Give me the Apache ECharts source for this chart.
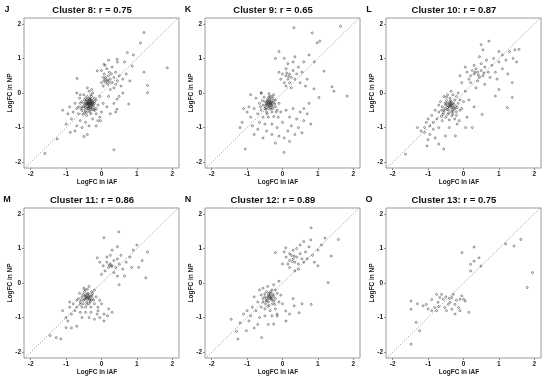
<!DOCTYPE html>
<html><head><meta charset="utf-8">
<script src="https://cdn.jsdelivr.net/npm/echarts@6/dist/echarts.min.js"></script>
<style>html,body{margin:0;padding:0;background:#fff}#c{width:550px;height:382px}</style>
</head><body><div id="c"></div>
<script>
const panelLetters = ['J','K','L','M','N','O'];
const panelTitles = ['Cluster 8: r = 0.75','Cluster 9: r = 0.65','Cluster 10: r = 0.87','Cluster 11: r = 0.86','Cluster 12: r = 0.89','Cluster 13: r = 0.75'];
const xAxisTitle = 'LogFC in iAF';
const yAxisTitle = 'LogFC in NP';
const tickValues = [-2,-1,0,1,2];
const diagonal = [[-2.3,-2.3],[2.3,2.3]];

const cluster8 = [[-0.35,-0.3],[-0.3,-0.25],[-0.4,-0.35],[-0.32,-0.4],[-0.28,-0.2],[-0.38,-0.22],[-0.45,-0.3],[-0.25,-0.33],[-0.33,-0.15],[-0.42,-0.45],[-0.36,-0.5],[-0.22,-0.42],[-0.5,-0.4],[-0.48,-0.2],[-0.3,-0.05],[-0.4,-0.1],[-0.2,-0.25],[-0.18,-0.5],[-0.55,-0.5],[-0.6,-0.3],[-0.52,-0.62],[-0.42,-0.65],[-0.3,-0.6],[-0.15,-0.6],[-0.1,-0.35],[-0.62,-0.15],[-0.7,-0.45],[-0.65,-0.6],[-0.27,-0.38],[-0.37,-0.28],[-0.34,-0.36],[-0.31,-0.31],[-0.39,-0.39],[-0.29,-0.27],[-0.44,-0.24],[-0.26,-0.46],[-0.46,-0.52],[-0.35,0.05],[-0.25,0.0],[-0.5,-0.05],[-0.8,-0.55],[-0.75,-0.3],[-0.85,-0.75],[-0.6,-0.8],[-0.45,-0.85],[-0.25,-0.75],[-0.1,-0.8],[0.0,-0.55],[0.05,-0.3],[-0.05,-0.1],[-0.9,-0.4],[-0.95,-0.6],[-0.7,-0.95],[-0.55,-1.0],[-0.35,-0.95],[-0.15,-0.95],[-0.05,-0.7],[-0.33,-0.2],[-0.41,-0.3],[-0.37,-0.44],[-0.24,-0.28],[-0.3,-0.48],[-0.47,-0.36],[-0.56,-0.25],[-0.2,-0.15],[-0.15,-0.2],[-0.6,-0.05],[-0.7,0.0],[-0.28,0.1],[-0.4,0.15],
[-0.33,-0.27],[-0.36,-0.33],[-0.31,-0.36],[-0.38,-0.31],[-0.34,-0.24],[-0.29,-0.33],[-0.4,-0.27],[-0.35,-0.4],[-0.27,-0.3],[-0.43,-0.33],[-0.32,-0.19],[-0.38,-0.45],[-0.23,-0.35],[-0.46,-0.42],[-0.41,-0.2],[-0.3,-0.43],[-0.36,-0.17],[-0.25,-0.22],[-0.5,-0.3],[-0.45,-0.15],[-0.22,-0.5],[-0.33,-0.55],[-0.55,-0.4],[-0.2,-0.3],[-0.28,-0.1],[-0.42,-0.56],[-0.58,-0.45],[-0.15,-0.45],[-0.48,-0.58],[-0.65,-0.4],
[0.1,0.4],[0.15,0.35],[0.05,0.45],[0.2,0.5],[0.12,0.3],[0.25,0.4],[0.08,0.55],[0.18,0.25],[0.3,0.3],[0.35,0.45],[0.0,0.3],[0.05,0.2],[0.22,0.6],[0.28,0.55],[0.4,0.25],[0.45,0.35],[0.15,0.7],[0.3,0.75],[0.1,0.8],[0.0,0.65],[0.4,0.6],[0.5,0.5],[0.55,0.2],[0.35,0.15],[0.25,0.1],[0.6,0.4],[0.2,0.95],[0.45,0.9],[0.12,0.45],[0.18,0.38],[0.07,0.35],[0.22,0.32],
[0.73,1.17],[0.44,0.98],[0.87,0.78],[1.1,1.45],[1.2,1.75],[0.9,1.1],[0.65,0.9],[0.7,0.55],[0.8,0.35],[0.6,0.0],[0.5,-0.1],[0.35,-0.3],[0.2,-0.1],[0.15,-0.4],[0.25,-0.6],[0.4,-0.55],
[-0.69,0.42],[-0.12,0.64],[0.07,0.83],[1.86,0.73],[1.3,0.22],[1.3,0.01],[0.44,-0.18],[0.44,-0.47],[0.77,-0.32],[-0.03,-0.8],[-0.5,-1.26],[0.35,-1.64],
[-0.88,-1.14],[-1.25,-1.33],[-1.0,-0.9],[-1.1,-0.5],[-0.75,-1.1],[-0.4,-1.2],[-1.6,-1.75],[1.2,0.6]];

const cluster9 = [[-0.39,-0.28],[-0.35,-0.22],[-0.45,-0.32],[-0.3,-0.35],[-0.42,-0.18],[-0.33,-0.42],[-0.5,-0.25],[-0.25,-0.28],[-0.4,-0.45],[-0.28,-0.15],[-0.48,-0.4],[-0.36,-0.1],[-0.2,-0.4],[-0.55,-0.35],[-0.45,-0.55],[-0.3,-0.55],[-0.6,-0.5],[-0.2,-0.2],[-0.15,-0.5],[-0.38,-0.02],[-0.25,-0.05],[-0.52,-0.12],[-0.65,-0.3],[-0.7,-0.6],[-0.55,-0.7],[-0.4,-0.7],[-0.25,-0.68],[-0.1,-0.3],[-0.12,-0.7],[-0.8,-0.45],[-0.75,-0.15],[-0.33,-0.32],[-0.37,-0.37],[-0.43,-0.25],[-0.27,-0.45],[-0.47,-0.47],[-0.32,-0.25],[-0.41,-0.35],[-0.36,-0.3],[-0.6,0.0],[-0.9,-0.7],[-0.85,-0.95],[-0.65,-0.85],[-0.5,-0.9],[-0.3,-0.9],[-0.05,-0.55],[-0.95,-0.4],[-1.0,-0.55],[-0.7,-1.05],[-0.45,-1.1],
[-0.37,-0.25],[-0.34,-0.3],[-0.4,-0.33],[-0.31,-0.28],[-0.38,-0.4],[-0.44,-0.28],[-0.29,-0.38],[-0.35,-0.17],[-0.42,-0.22],[-0.33,-0.47],[-0.26,-0.22],[-0.47,-0.35],[-0.39,-0.12],[-0.22,-0.32],[-0.5,-0.45],[-0.3,-0.1],[-0.43,-0.6],[-0.57,-0.22],[-0.18,-0.55],[-0.62,-0.4],
[0.1,0.5],[0.15,0.4],[0.2,0.55],[0.25,0.45],[0.05,0.3],[0.3,0.65],[0.35,0.4],[0.1,0.7],[0.2,0.3],[0.4,0.55],[0.0,0.55],[-0.05,0.4],[0.15,0.85],[0.3,0.9],[0.45,0.75],[0.5,0.3],[0.25,0.15],[0.55,0.6],[0.1,0.2],[-0.1,0.6],[0.35,1.05],[0.05,1.0],[0.6,0.9],[0.7,0.4],[0.65,0.2],[0.18,0.48],[0.12,0.58],
[0.32,1.89],[0.84,1.74],[1.64,1.93],[0.98,1.45],[1.05,1.5],[1.17,0.63],[0.75,1.1],[0.9,0.9],[-0.2,1.0],[-0.1,1.2],
[0.89,0.12],[1.4,0.18],[1.45,0.05],[1.83,-0.09],[1.03,-0.13],[0.75,-0.3],
[0.1,-0.5],[0.3,-0.45],[0.5,-0.55],[0.7,-0.6],[0.2,-0.7],[0.4,-0.75],[0.6,-0.8],[0.0,-0.85],[0.25,-0.95],[0.45,-1.0],[0.15,-1.1],[0.35,-1.2],[0.55,-1.15],[0.05,-1.3],[-0.1,-1.25],[0.2,-1.4],[-0.3,-1.2],[-0.2,-1.45],[0.8,-0.9],[0.04,-1.72],[-0.15,-1.0],[0.6,-0.45],
[-1.05,-1.62],[-1.14,-0.85],[-1.1,-0.45],[-0.55,-1.3],[-0.8,-1.2],[-1.2,-1.0],[-0.6,0.0],[-0.9,-0.05]];

const cluster10 = [[-0.37,-0.37],[-0.4,-0.3],[-0.3,-0.4],[-0.45,-0.42],[-0.35,-0.25],[-0.28,-0.32],[-0.5,-0.35],[-0.42,-0.5],[-0.32,-0.48],[-0.22,-0.38],[-0.55,-0.5],[-0.48,-0.22],[-0.38,-0.15],[-0.25,-0.2],[-0.6,-0.4],[-0.58,-0.62],[-0.45,-0.62],[-0.3,-0.6],[-0.2,-0.55],[-0.15,-0.3],[-0.65,-0.25],[-0.7,-0.55],[-0.75,-0.75],[-0.6,-0.8],[-0.4,-0.78],[-0.25,-0.75],[-0.1,-0.5],[-0.3,-0.05],[-0.45,-0.05],[-0.55,-0.1],[-0.35,0.05],[-0.2,-0.1],[-0.1,-0.2],[-0.05,-0.45],[-0.8,-0.5],[-0.85,-0.85],[-0.9,-0.65],[-0.36,-0.33],[-0.33,-0.36],[-0.41,-0.4],[-0.39,-0.27],[-0.27,-0.44],[-0.47,-0.3],[-0.52,-0.45],[-0.34,-0.55],[-0.62,-0.5],[-0.5,-0.7],[-0.7,-0.35],[-0.2,-0.65],[-0.12,-0.8],[-0.95,-0.95],[-1.0,-0.75],[-0.85,-1.05],[-0.7,-1.0],[-1.1,-1.0],[-0.95,-1.2],[-1.2,-1.1],[-1.0,-1.35],[-0.8,-1.3],[-1.3,-1.0],[-1.05,-0.85],[-0.15,0.0],[0.0,-0.25],[0.05,0.05],
[-0.39,-0.34],[-0.35,-0.42],[-0.43,-0.37],[-0.31,-0.3],[-0.46,-0.48],[-0.37,-0.22],[-0.29,-0.52],[-0.52,-0.3],[-0.42,-0.58],[-0.24,-0.46],[-0.56,-0.56],[-0.33,-0.66],[-0.48,-0.12],[-0.18,-0.42],[-0.62,-0.68],
[0.3,0.55],[0.4,0.6],[0.2,0.5],[0.45,0.45],[0.35,0.7],[0.5,0.65],[0.25,0.65],[0.55,0.5],[0.6,0.75],[0.15,0.4],[0.4,0.35],[0.7,0.6],[0.3,0.8],[0.5,0.85],[0.65,0.95],[0.8,0.8],[0.75,0.45],[0.1,0.6],[0.05,0.75],[0.2,0.3],[0.85,1.0],[0.9,0.6],[1.0,0.9],[1.1,1.1],[1.2,0.95],[1.3,1.2],[1.4,1.0],[1.5,0.9],[1.45,1.25],[1.57,1.26],[1.0,1.2],[0.95,0.4],[1.1,0.7],[1.25,0.55],[0.6,0.25],[0.35,0.15],[-0.1,0.5],[-0.05,0.3],[0.45,1.05],[0.58,0.58],[0.42,0.52],[0.33,0.6],
[0.72,1.5],[0.5,1.4],[0.55,1.25],[1.38,0.3],[1.0,0.1],[0.9,-0.09],[1.38,-0.13],[1.24,-0.42],[0.53,-0.62],
[-0.18,-0.9],[0.06,-1.0],[0.25,-1.0],[-0.23,-1.24],[-0.51,-1.24],[-0.7,-1.48],[-0.56,-1.62],[-1.03,-1.53],[-1.64,-1.77],[-1.1,-1.14],[-0.4,-1.0],[0.1,-0.7],[0.3,-0.4],[0.15,-0.2]];

const cluster11 = [[-0.41,-0.42],[-0.45,-0.35],[-0.35,-0.45],[-0.5,-0.5],[-0.38,-0.3],[-0.3,-0.38],[-0.55,-0.4],[-0.42,-0.55],[-0.32,-0.55],[-0.25,-0.45],[-0.48,-0.25],[-0.6,-0.55],[-0.4,-0.18],[-0.28,-0.25],[-0.55,-0.7],[-0.45,-0.7],[-0.3,-0.7],[-0.2,-0.6],[-0.15,-0.4],[-0.62,-0.3],[-0.7,-0.5],[-0.7,-0.7],[-0.6,-0.85],[-0.45,-0.85],[-0.3,-0.85],[-0.1,-0.7],[-0.35,-0.1],[-0.5,-0.15],[-0.2,-0.2],[-0.8,-0.6],[-0.43,-0.45],[-0.37,-0.4],[-0.47,-0.38],[-0.33,-0.5],[-0.52,-0.6],[-0.65,-0.45],[-0.25,-0.3],[-0.75,-0.8],[-0.85,-0.9],[-0.9,-0.7],[-0.55,-1.0],[-0.35,-1.0],[-0.05,-0.5],
[-0.39,-0.47],[-0.44,-0.4],[-0.36,-0.36],[-0.48,-0.46],[-0.33,-0.42],[-0.4,-0.32],[-0.29,-0.5],[-0.52,-0.33],[-0.42,-0.62],[-0.27,-0.36],[-0.57,-0.48],[-0.36,-0.6],[-0.46,-0.2],[-0.22,-0.5],[-0.6,-0.62],
[0.07,-0.9],[0.17,-0.95],[-0.12,-0.9],[0.07,-1.1],[0.0,-0.6],[-0.1,-0.8],[0.2,-0.75],[-0.05,-1.0],[0.3,-0.85],[-0.2,-1.05],
[0.25,0.55],[0.2,0.45],[0.3,0.5],[0.35,0.65],[0.15,0.6],[0.4,0.45],[0.1,0.35],[0.45,0.7],[0.25,0.8],[0.5,0.55],[0.05,0.5],[0.35,0.3],[0.55,0.8],[0.6,0.4],[0.7,0.6],[0.15,0.75],[0.45,0.2],[0.0,0.25],[-0.05,0.6],[0.3,0.95],[0.5,-0.05],[0.65,0.2],[0.8,0.75],[0.85,0.45],[0.28,0.48],[0.22,0.52],
[0.07,1.31],[0.49,1.48],[-0.12,0.73],[1.25,0.15],[1.0,1.1],[1.3,0.9],[0.9,0.95],[1.05,0.45],[1.15,0.65],[0.45,1.05],
[-1.0,-1.29],[-0.85,-1.3],[-1.28,-1.58],[-1.15,-1.62],[-1.45,-1.52],[-0.7,-1.25],[-1.0,-1.0],[-1.1,-0.8],[-0.9,-0.55],[-0.95,-1.1]];

const cluster12 = [[-0.34,-0.42],[-0.4,-0.35],[-0.3,-0.5],[-0.45,-0.45],[-0.35,-0.3],[-0.25,-0.38],[-0.5,-0.4],[-0.4,-0.55],[-0.28,-0.6],[-0.2,-0.45],[-0.55,-0.55],[-0.45,-0.25],[-0.3,-0.2],[-0.38,-0.65],[-0.15,-0.3],[-0.6,-0.35],[-0.6,-0.7],[-0.5,-0.75],[-0.35,-0.8],[-0.2,-0.75],[-0.1,-0.55],[-0.65,-0.2],[-0.7,-0.55],[-0.75,-0.8],[-0.5,-0.95],[-0.3,-0.95],[-0.15,-0.9],[-0.05,-0.35],[-0.42,-0.1],[-0.25,-0.05],[-0.55,-0.15],[-0.33,-0.45],[-0.37,-0.38],[-0.43,-0.5],[-0.27,-0.33],[-0.48,-0.6],[-0.8,-0.4],[-0.85,-0.7],[-0.9,-0.95],[-1.0,-0.8],[-0.65,-1.0],[-0.1,0.05],[-0.2,-0.2],[-0.7,-1.2],[-0.95,-1.1],
[-0.36,-0.45],[-0.41,-0.41],[-0.32,-0.38],[-0.46,-0.52],[-0.29,-0.44],[-0.38,-0.3],[-0.24,-0.52],[-0.5,-0.32],[-0.42,-0.68],[-0.33,-0.25],[-0.55,-0.45],[-0.22,-0.62],
[0.33,-0.66],[0.81,-0.62],[0.47,-0.86],[0.09,-0.81],[-0.15,-0.95],[-0.25,-1.19],[-0.59,-1.58],[0.0,-0.6],[0.2,-0.9],[0.3,-0.45],[0.55,-0.6],[0.1,-1.1],
[0.3,0.7],[0.35,0.6],[0.25,0.8],[0.4,0.75],[0.2,0.65],[0.45,0.55],[0.5,0.85],[0.15,0.55],[0.55,0.7],[0.3,0.95],[0.6,0.6],[0.1,0.75],[0.4,1.0],[0.65,0.9],[0.7,0.7],[0.2,0.45],[0.5,1.1],[0.75,1.05],[0.85,0.8],[0.9,0.6],[0.05,0.9],[0.0,0.55],[0.35,0.35],[0.6,1.2],[0.8,1.25],[1.0,0.5],[1.1,1.1],[1.0,0.95],[0.45,0.4],[0.33,0.78],[0.28,0.62],
[0.81,1.6],[0.09,1.02],[-0.2,0.88],[0.2,0.85],[1.29,0.01],[1.58,1.26],[1.38,0.78],[1.2,1.3],
[-1.45,-1.05],[-1.2,-1.15],[-1.02,-1.38],[-1.26,-1.62],[-1.1,-0.9],[-0.8,-1.3],[-0.4,-1.2],[-1.3,-1.4]];

const cluster13 = [[-0.04,0.88],[0.3,1.04],[0.3,0.63],[0.44,0.73],[0.2,0.54],[0.49,0.49],[0.2,0.35],[1.19,1.13],[1.43,1.07],[1.62,1.26],[1.95,0.3],[1.8,-0.13],
[-1.48,-0.52],[-1.48,-0.76],[-1.3,-0.6],[-1.14,-0.66],[-1.05,-0.62],[-0.9,-0.48],[-0.81,-0.71],[-0.9,-0.8],[-0.76,-0.8],[-0.72,-0.56],[-0.67,-0.42],[-0.62,-0.33],[-0.57,-0.47],[-0.53,-0.71],[-0.48,-0.8],[-0.38,-0.56],[-0.33,-0.42],[-0.29,-0.33],[-0.24,-0.62],[-0.24,-0.9],[-0.14,-0.71],[-0.1,-0.47],[-0.05,-0.37],[0.0,-0.47],[0.05,-0.52],[-0.33,-0.76],[-0.43,-0.62],[-0.76,-0.33],[-0.5,-0.4],[-0.2,-0.5],[-0.7,-0.68],[-1.0,-0.75],[-0.4,-0.45],
[-1.34,-1.14],[-1.24,-1.38],[-1.48,-1.77],[0.15,-0.85],[-0.1,-0.8]];

const clusters = [cluster8, cluster9, cluster10, cluster11, cluster12, cluster13];

const colLeft = [24, 205, 386];
const rowTop = [18, 208];
const boxW = 155, boxH = 150;
const FONT = 'Liberation Sans, Arial, sans-serif';

const grids = [], xAxes = [], yAxes = [], series = [], graphics = [];
clusters.forEach((pts, i) => {
  const col = i % 3, row = Math.floor(i / 3);
  const L = colLeft[col], T = rowTop[row];
  grids.push({left: L, top: T, width: boxW, height: boxH, show: true, borderColor: '#9a9a9a', borderWidth: 1, backgroundColor: 'transparent'});
  const axisCommon = {
    type: 'value', min: -2.19, max: 2.19, gridIndex: i,
    splitLine: {show: false},
    axisLine: {show: false, onZero: false},
    axisTick: {show: true, length: 2, lineStyle: {color: '#777', width: 0.8}, customValues: tickValues},
    axisLabel: {fontSize: 6.5, fontWeight: 'bold', color: '#222', fontFamily: FONT, margin: 3, customValues: tickValues}
  };
  xAxes.push(Object.assign({}, axisCommon, {position: 'bottom'}));
  yAxes.push(Object.assign({}, axisCommon, {min: -2.17, max: 2.17, position: 'left'}));
  series.push({type: 'line', xAxisIndex: i, yAxisIndex: i, data: diagonal, symbol: 'none', silent: true,
    lineStyle: {type: [1.2, 1.6], color: '#8a8a8a', width: 0.8}, z: 1});
  series.push({type: 'scatter', xAxisIndex: i, yAxisIndex: i, data: pts, symbol: 'circle', symbolSize: 2,
    itemStyle: {color: 'rgba(0,0,0,0)', borderColor: '#222', borderWidth: 0.6}, z: 2});
  const ty = T - 8;
  graphics.push({type: 'text', x: L - 17, y: ty, style: {text: panelLetters[i], font: 'bold 9px ' + FONT, fill: '#111', align: 'center', verticalAlign: 'middle'}});
  graphics.push({type: 'text', x: L + 68, y: ty, style: {text: panelTitles[i], font: 'bold 9.5px ' + FONT, fill: '#111', align: 'center', verticalAlign: 'middle'}});
  graphics.push({type: 'text', x: L + 73, y: T + boxH + 14.5, style: {text: xAxisTitle, font: 'bold 6.5px ' + FONT, fill: '#222', align: 'center', verticalAlign: 'middle'}});
  graphics.push({type: 'text', x: L - 14, y: T + boxH / 2, rotation: Math.PI / 2, style: {text: yAxisTitle, font: 'bold 6.5px ' + FONT, fill: '#222', align: 'center', verticalAlign: 'middle'}});
});

const chart = echarts.init(document.getElementById('c'), null, {renderer: 'canvas'});
chart.setOption({
  animation: false,
  backgroundColor: '#fff',
  grid: grids, xAxis: xAxes, yAxis: yAxes, series: series,
  graphic: graphics
});
</script></body></html>
